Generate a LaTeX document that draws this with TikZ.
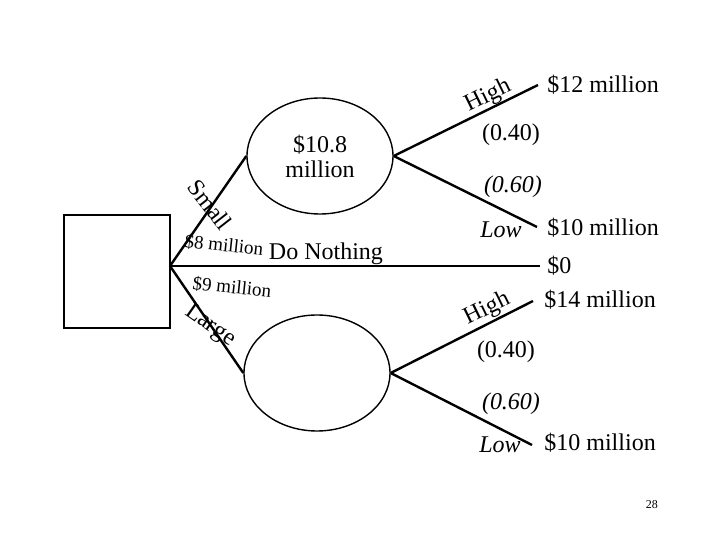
\documentclass[tikz,border=0pt]{standalone}
\usepackage{fontspec}
\setmainfont{Liberation Serif}
\usetikzlibrary{shapes.geometric}
\begin{document}
\begin{tikzpicture}[x=0.5pt,y=-0.5pt]

 \tikzset{
      branch/.style={line width=1.2pt},
      chance/.style={ellipse,draw,line width=0.7pt,minimum width=73pt,minimum height=58pt,
        inner sep=0pt,align=center,font=\fontsize{12}{12.5}\selectfont},
      lbl/.style={font=\fontsize{12}{13}\selectfont,inner sep=1pt},
      problbl/.style={font=\fontsize{12}{13}\selectfont\itshape,inner sep=1pt},
      costlbl/.style={font=\fontsize{9.5}{10}\selectfont,inner sep=0.5pt},
      payoff/.style={lbl,anchor=west},
    }

 \useasboundingbox (0,0) rectangle (720,540);

 % decision square and the two chance nodes
 \node[draw,line width=0.7pt,minimum width=53pt,minimum height=56.5pt,inner sep=0pt] (dec) at (117,271.5) {};
 \coordinate (root) at (170,266);

 \node[chance] (up) at (320,156) {\$10.8\\million};
 \node[chance] (lo) at (317,373) {};

 %% branch ends
 \coordinate (e1) at (538,85);
 \coordinate (e2) at (537,227);
 \coordinate (e0) at (540,266);
 \coordinate (e3) at (533,301);
 \coordinate (e4) at (532,445);

 \draw[branch] (root) -- (up.west);
 \draw[branch] (root) -- (lo.west);
 \draw[branch] (root) -- (e0);
 \draw[branch] (up.east) -- (e1);
 \draw[branch] (up.east) -- (e2);
 \draw[branch] (lo.east) -- (e3);
 \draw[branch] (lo.east) -- (e4);

 % payoffs
 \node[payoff] (p1) at (545,85) {\$12 million};
 \node[payoff] (p2) at (545,228) {\$10 million};
 \node[payoff] (p0) at (545,266) {\$0};
 \node[payoff] (p3) at (542,300) {\$14 million};
 \node[payoff] (p4) at (542,443) {\$10 million};

 % branch labels
 \node[lbl,rotate=-52] (small) at (210,205) {Small};
 \node[costlbl,rotate=-6] (smallcost) at (224,245) {\$8 million};
 \node[lbl] (none) at (326,254) {Do Nothing};
 \node[costlbl,rotate=-6] (largecost) at (232,287) {\$9 million};
 \node[lbl,rotate=-35] (large) at (210,326) {Large};

 \node[lbl,rotate=26] (hi1) at (488,96) {High};
 \node[lbl] (q1) at (511,135) {(0.40)};
 \node[problbl] (r1) at (513,187) {(0.60)};
 \node[problbl] (lo1) at (501,230) {Low};

 \node[lbl,rotate=26] (hi2) at (487,309) {High};
 \node[lbl] (q2) at (506,352) {(0.40)};
 \node[problbl] (r2) at (511,404) {(0.60)};
 \node[problbl] (lo2) at (500,445) {Low};

 \node[font=\fontsize{6}{7}\selectfont] (pg) at (652,505) {28};

\end{tikzpicture}
\end{document}
